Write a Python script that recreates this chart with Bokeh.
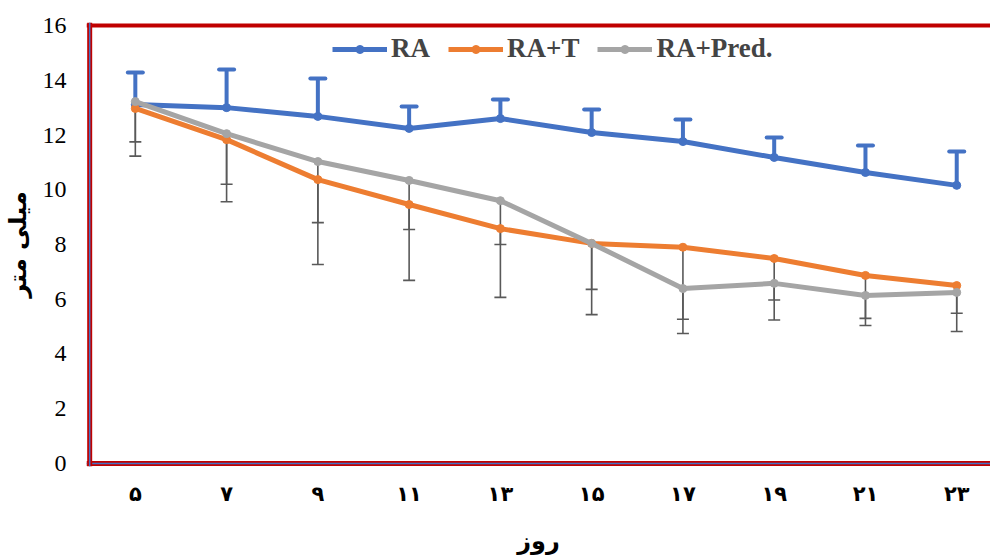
from bokeh.plotting import figure
from bokeh.models import Span, Legend, LegendItem, FixedTicker
from bokeh.embed import file_html
from bokeh.resources import INLINE

# ---- data ----
days = ["۵", "۷", "۹", "۱۱", "۱۳", "۱۵", "۱۷", "۱۹", "۲۱", "۲۳"]
ra = [13.11, 13.0, 12.68, 12.24, 12.6, 12.09, 11.76, 11.18, 10.63, 10.16]
ra_upper = [14.28, 14.39, 14.06, 13.04, 13.3, 12.93, 12.57, 11.91, 11.62, 11.4]
ra_t = [12.97, 11.83, 10.37, 9.46, 8.58, 8.04, 7.9, 7.49, 6.87, 6.5]
ra_t_lower = [11.75, 10.2, 8.8, 8.55, 8.0, 6.36, 5.27, 5.97, 5.3, 5.49]
ra_pred = [13.22, 12.05, 11.03, 10.34, 9.6, 8.04, 6.39, 6.58, 6.14, 6.25]
ra_pred_lower = [11.23, 9.56, 7.27, 6.69, 6.07, 5.44, 4.75, 5.24, 5.04, 4.82]
y_ticks = [0, 2, 4, 6, 8, 10, 12, 14, 16]

xs = list(range(len(days)))

BLUE = "#4472C4"
ORANGE = "#ED7D31"
GRAY = "#A5A5A5"
ERR = "#595959"
RED = "#C00000"

p = figure(width=990, height=559, output_backend="svg", toolbar_location=None,
           x_range=(-0.535, 9.37), y_range=(-0.11, 16.11),
           min_border_left=86, min_border_right=0, min_border_top=22, min_border_bottom=93)
p.outline_line_color = None
p.xgrid.grid_line_color = None
p.ygrid.grid_line_color = None

# error bars (grey, downward)
p.segment(x0=xs, y0=ra_t, x1=xs, y1=ra_t_lower, line_color=ERR, line_width=1.6)
p.scatter(x=xs, y=ra_t_lower, marker="dash", size=12, line_color=ERR, line_width=1.6)
p.segment(x0=xs, y0=ra_pred, x1=xs, y1=ra_pred_lower, line_color=ERR, line_width=1.6)
p.scatter(x=xs, y=ra_pred_lower, marker="dash", size=12, line_color=ERR, line_width=1.6)
# RA error bars (blue, upward)
p.segment(x0=xs, y0=ra, x1=xs, y1=ra_upper, line_color=BLUE, line_width=4)
p.scatter(x=xs, y=ra_upper, marker="dash", size=15, line_color=BLUE, line_width=4, line_cap="round")

r_ra_l = p.line(xs, ra, line_color=BLUE, line_width=5)
r_ra_m = p.scatter(xs, ra, size=8, fill_color=BLUE, line_color=BLUE)
r_t_l = p.line(xs, ra_t, line_color=ORANGE, line_width=5)
r_t_m = p.scatter(xs, ra_t, size=8, fill_color=ORANGE, line_color=ORANGE)
r_p_l = p.line(xs, ra_pred, line_color=GRAY, line_width=5)
r_p_m = p.scatter(xs, ra_pred, size=8, fill_color=GRAY, line_color=GRAY)

# frame lines
p.add_layout(Span(location=16, dimension="width", line_color=RED, line_width=4))
p.add_layout(Span(location=0, dimension="width", line_color=RED, line_width=5))
p.add_layout(Span(location=0, dimension="width", line_color=BLUE, line_width=1.5))
p.add_layout(Span(location=-0.5, dimension="height", line_color=RED, line_width=5))
p.add_layout(Span(location=-0.5, dimension="height", line_color=BLUE, line_width=1.5))

# axes
p.xaxis.ticker = FixedTicker(ticks=xs)
p.xaxis.major_label_overrides = {i: d for i, d in enumerate(days)}
p.xaxis.major_label_text_font = "DejaVu Sans"
p.xaxis.major_label_text_font_style = "bold"
p.xaxis.major_label_text_font_size = "21px"
p.xaxis.major_label_text_color = "black"
p.xaxis.major_label_standoff = 9
p.xaxis.axis_label = "روز"
p.xaxis.axis_label_text_font = "DejaVu Sans"
p.xaxis.axis_label_text_font_style = "bold"
p.xaxis.axis_label_text_font_size = "24px"
p.xaxis.axis_label_text_color = "black"
p.xaxis.axis_label_standoff = 18

p.yaxis.ticker = FixedTicker(ticks=y_ticks)
p.yaxis.major_label_text_font = "Liberation Serif"
p.yaxis.major_label_text_font_size = "24px"
p.yaxis.major_label_text_color = "black"
p.yaxis.major_label_standoff = 14
p.yaxis.axis_label = "میلی متر"
p.yaxis.axis_label_text_font = "DejaVu Sans"
p.yaxis.axis_label_text_font_style = "bold"
p.yaxis.axis_label_text_font_size = "24px"
p.yaxis.axis_label_text_color = "black"
p.yaxis.axis_label_standoff = 8

for ax in (p.xaxis, p.yaxis):
    ax.axis_line_color = None
    ax.major_tick_line_color = None
    ax.minor_tick_line_color = None

legend = Legend(items=[
    LegendItem(label="RA", renderers=[r_ra_l, r_ra_m]),
    LegendItem(label="RA+T", renderers=[r_t_l, r_t_m]),
    LegendItem(label="RA+Pred.", renderers=[r_p_l, r_p_m]),
], orientation="horizontal", location=(246, 402))
legend.label_text_font = "Liberation Serif"
legend.label_text_font_style = "bold"
legend.label_text_font_size = "27px"
legend.glyph_width = 55
legend.label_standoff = 4
legend.spacing = 18
legend.padding = 8
legend.margin = 0
legend.border_line_color = None
legend.background_fill_alpha = 0
p.add_layout(legend)

open("out.html", "w").write(file_html(p, INLINE))
